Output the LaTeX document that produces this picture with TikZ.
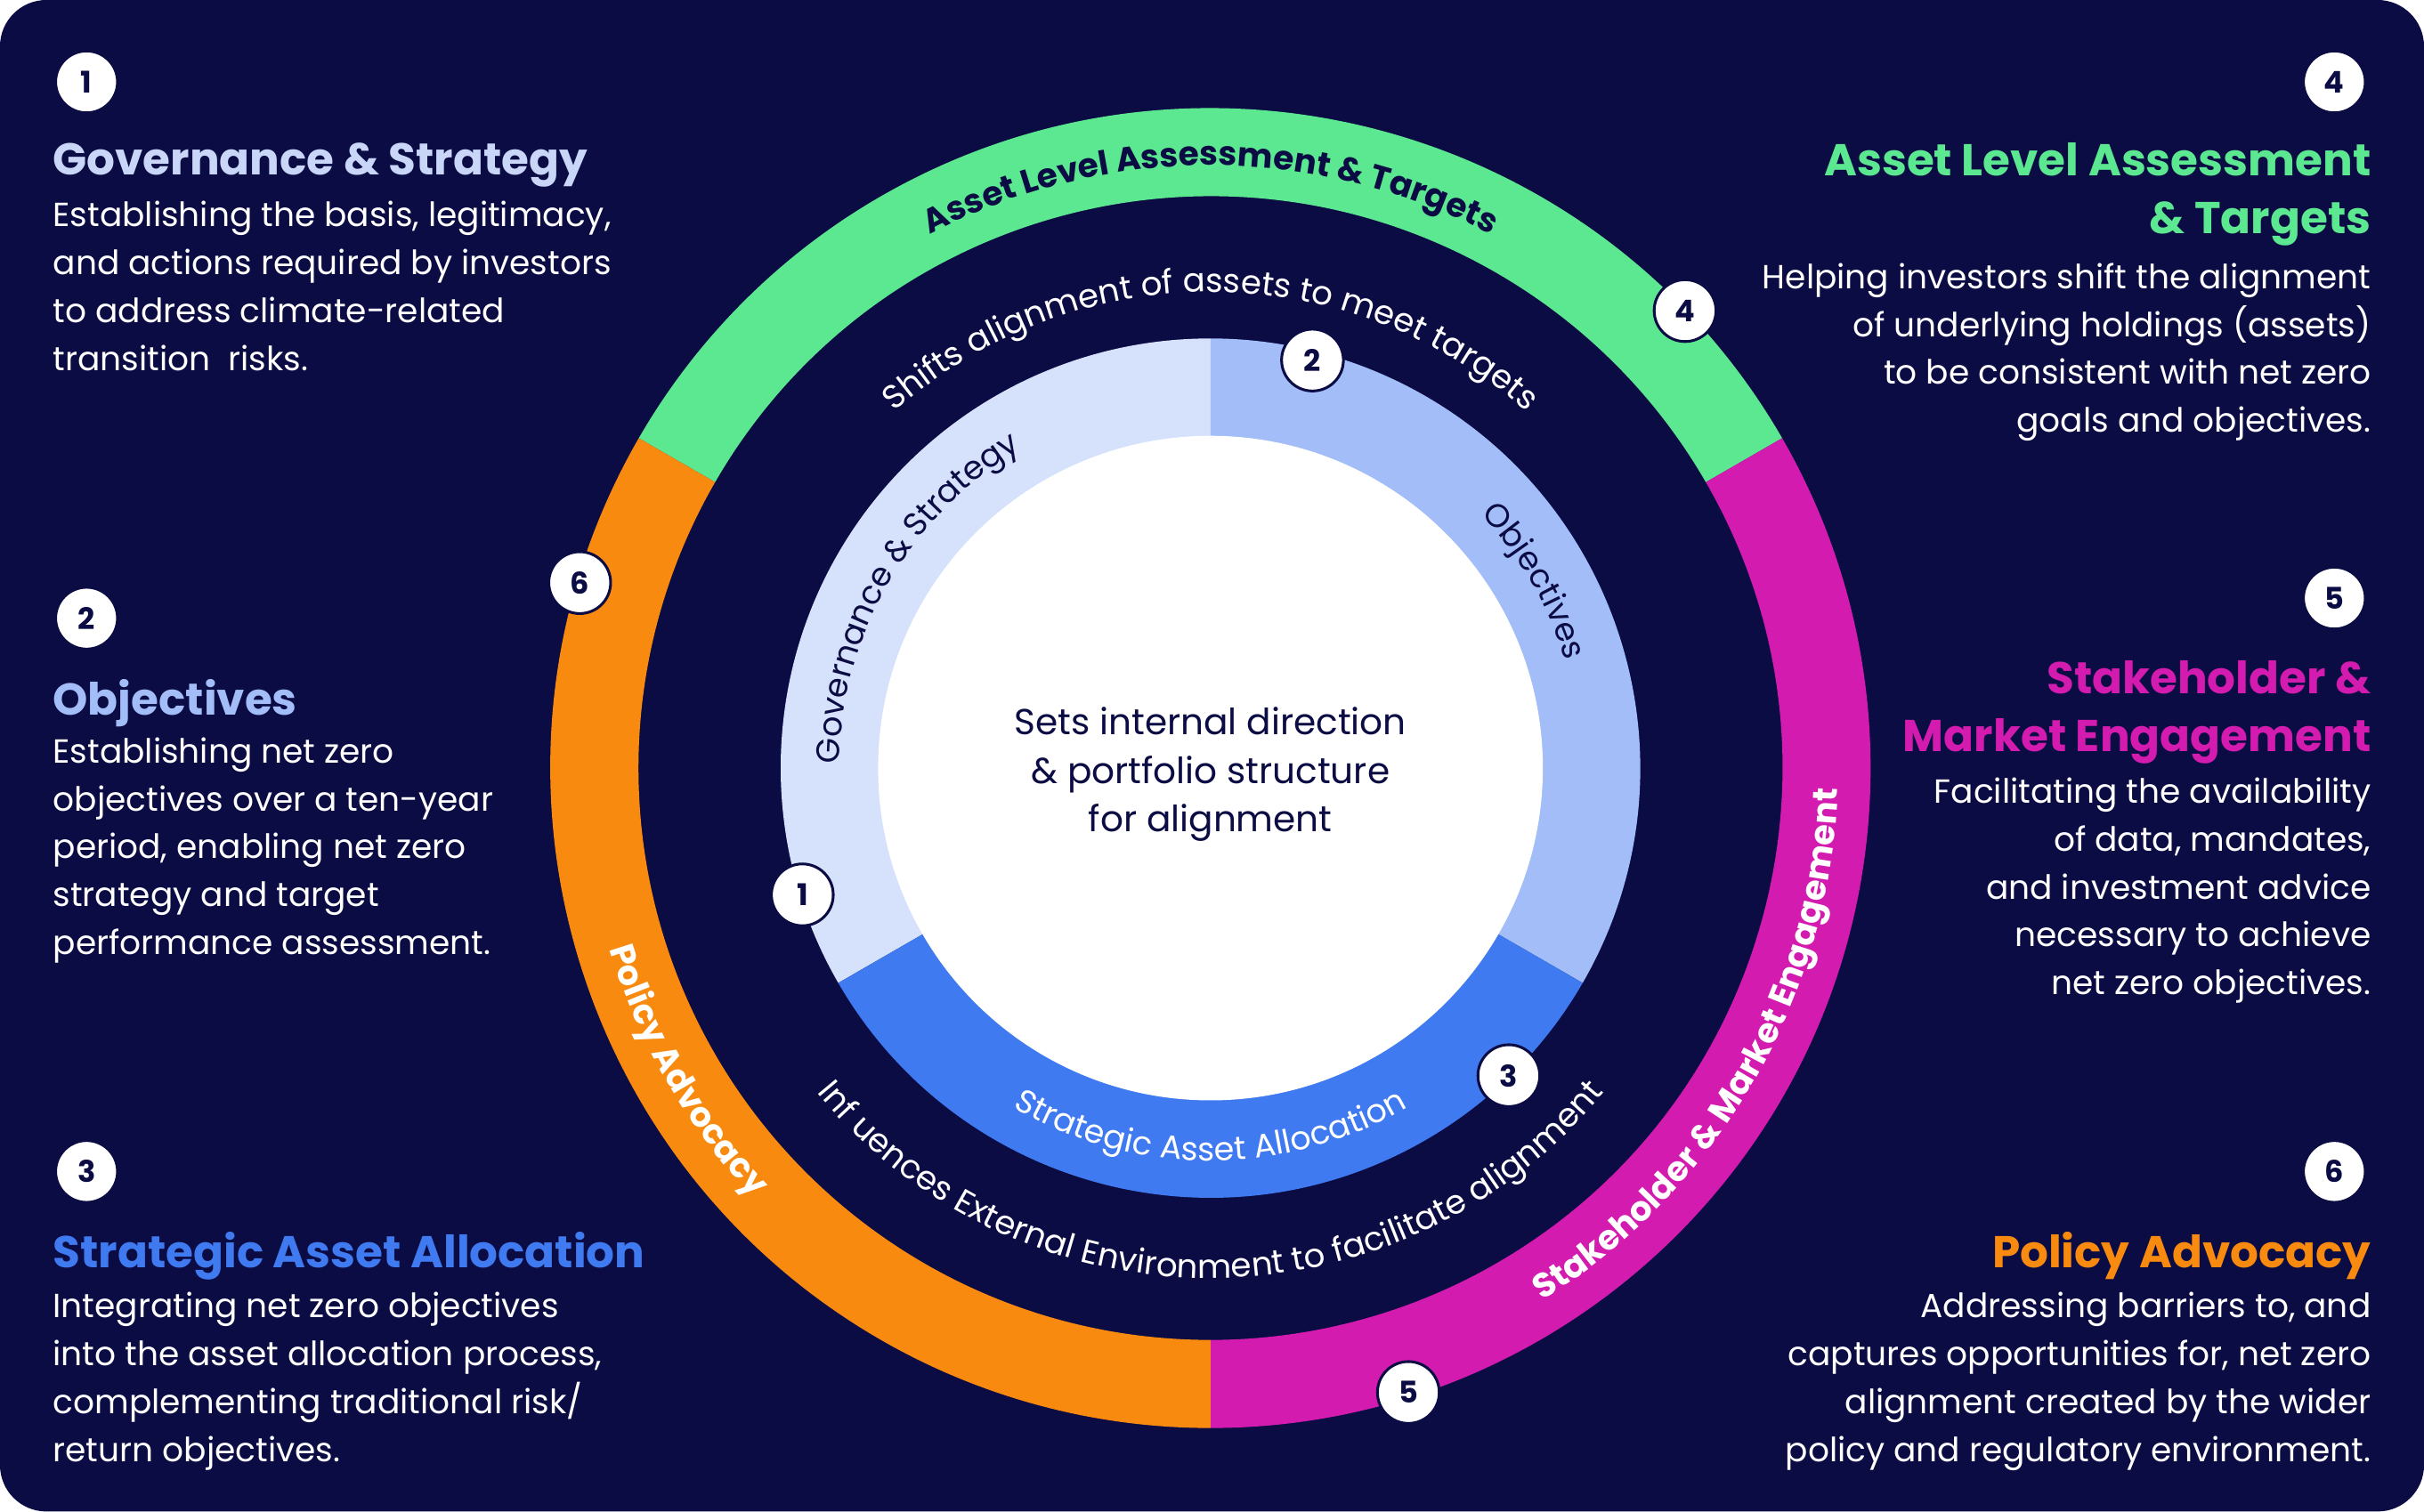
\documentclass[tikz,border=0pt]{standalone}
\usepackage{fontspec}
\setmainfont{Poppins}
\usetikzlibrary{decorations.text,calc}
\definecolor{bg}{HTML}{0C0C45}
\definecolor{cgreen}{HTML}{5CE890}
\definecolor{corange}{HTML}{F98A10}
\definecolor{cmag}{HTML}{D41BB0}
\definecolor{clight}{HTML}{D6E1FB}
\definecolor{cperi}{HTML}{A3BDF8}
\definecolor{cblue}{HTML}{3F7AF0}
\definecolor{chead}{HTML}{C9D6F8}
\newcommand\seg[5]{\fill[#1] ($(C)+(#2:#4)$) arc[start angle=#2,end angle=#3,radius=#4] -- ($(C)+(#3:#5)$) arc[start angle=#3,end angle=#2,radius=#5] -- cycle;}
\newcommand\arctext[6]{{#1\path[decorate,decoration={text along path,text align=center,text color=#2,text={#3}}] ($(C)+(#4:#6)$) arc[start angle=#4,end angle=#5,radius=#6];}}
\begin{document}
\begin{tikzpicture}[x=0.02cm,y=0.02cm,
  num/.style={circle,fill=white,draw=bg,line width=1pt,minimum size=0.8cm,inner sep=0pt,font=\bfseries\fontsize{11}{11}\selectfont,text=bg},
  head/.style={anchor=north west,font=\bfseries\fontsize{16.4}{21.5}\selectfont,inner sep=0pt},
  body/.style={anchor=north west,font=\fontsize{12.3}{17.6}\selectfont,text=white,inner sep=0pt,align=left},
  rhead/.style={anchor=north east,font=\bfseries\fontsize{16.4}{21.5}\selectfont,inner sep=0pt,align=right},
  rbody/.style={anchor=north east,font=\fontsize{12.3}{17.6}\selectfont,text=white,inner sep=0pt,align=right}]
\fill[bg,rounded corners=0.6cm] (0,0) rectangle (1568,978);
\useasboundingbox (0,0) rectangle (1568,978);
\coordinate (C) at (783,481);
\seg{cgreen}{30}{150}{427}{370}
\seg{cmag}{-90}{30}{427}{370}
\seg{corange}{150}{270}{427}{370}
\seg{clight}{90}{210}{278}{214}
\seg{cperi}{-30}{90}{278}{214}
\seg{cblue}{210}{330}{278}{214}
\fill[white] (C) circle[radius=215];
\arctext{\bfseries\fontsize{12.3}{13}\selectfont}{bg}{Asset Level Assessment {\&} Targets}{125}{55}{390}
\arctext{\bfseries\fontsize{12.6}{13}\selectfont}{white}{Stakeholder {\&} Market Engagement}{-65}{5}{406}
\arctext{\bfseries\fontsize{12.6}{13}\selectfont}{white}{Policy Advocacy}{190}{230}{406}
\arctext{\fontsize{12.2}{12}\selectfont}{white}{Shifts alignment of assets to meet targets}{140}{40}{308}
\arctext{\fontsize{12.2}{12}\selectfont}{white}{Inf uences External Environment to facilitate alignment}{210}{330}{330}
\arctext{\fontsize{12}{12}\selectfont}{bg}{Governance {\&} Strategy}{185}{115}{240}
\arctext{\fontsize{12}{12}\selectfont}{bg}{Objectives}{45}{15}{240}
\arctext{\fontsize{12}{12}\selectfont}{white}{Strategic Asset Allocation}{235}{305}{254}
\node[align=center,text=bg,font=\fontsize{13.3}{18}\selectfont] (ctr) at (783,477)
  {Sets internal direction\\\& portfolio structure\\for alignment};
\node[num] (r4) at (1090,777) {4};
\node[num] (r6) at (375,601) {6};
\node[num] (r5) at (911,77) {5};
\node[num] (r2) at (849,745) {2};
\node[num] (r1) at (519,399) {1};
\node[num] (r3) at (976,282) {3};
\node[num] (n1) at (56,925) {1};
\node[num] (n2) at (56,578) {2};
\node[num] (n3) at (56,220) {3};
\node[num] (n4) at (1510,925) {4};
\node[num] (n5) at (1510,591) {5};
\node[num] (n6) at (1510,220) {6};
\node[head,text=chead] (h1) at (34,886) {Governance \& Strategy};
\node[body] (b1) at (34,848) {Establishing the basis, legitimacy,\\and actions required by investors\\to address climate-related\\transition\ \ risks.};
\node[head,text=cperi] (h2) at (34,539) {Objectives};
\node[body] (b2) at (34,501) {Establishing net zero\\objectives over a ten-year\\period, enabling net zero\\strategy and target\\performance assessment.};
\node[head,text=cblue] (h3) at (34,181) {Strategic Asset Allocation};
\node[body] (b3) at (34,142) {Integrating net zero objectives\\into the asset allocation process,\\complementing traditional risk/\\return objectives.};
\node[rhead,text=cgreen] (h4) at (1534,886) {Asset Level Assessment\\\& Targets};
\node[rbody] (b4) at (1534,808) {Helping investors shift the alignment\\of underlying holdings (assets)\\to be consistent with net zero\\goals and objectives.};
\node[rhead,text=cmag] (h5) at (1534,551) {Stakeholder \&\\Market Engagement};
\node[rbody] (b5) at (1534,475) {Facilitating the availability\\of data, mandates,\\and investment advice\\necessary to achieve\\net zero objectives.};
\node[rhead,text=corange] (h6) at (1534,181) {Policy Advocacy};
\node[rbody] (b6) at (1534,142) {Addressing barriers to, and\\captures opportunities for, net zero\\alignment created by the wider\\policy and regulatory environment.};
\end{tikzpicture}
\end{document}
